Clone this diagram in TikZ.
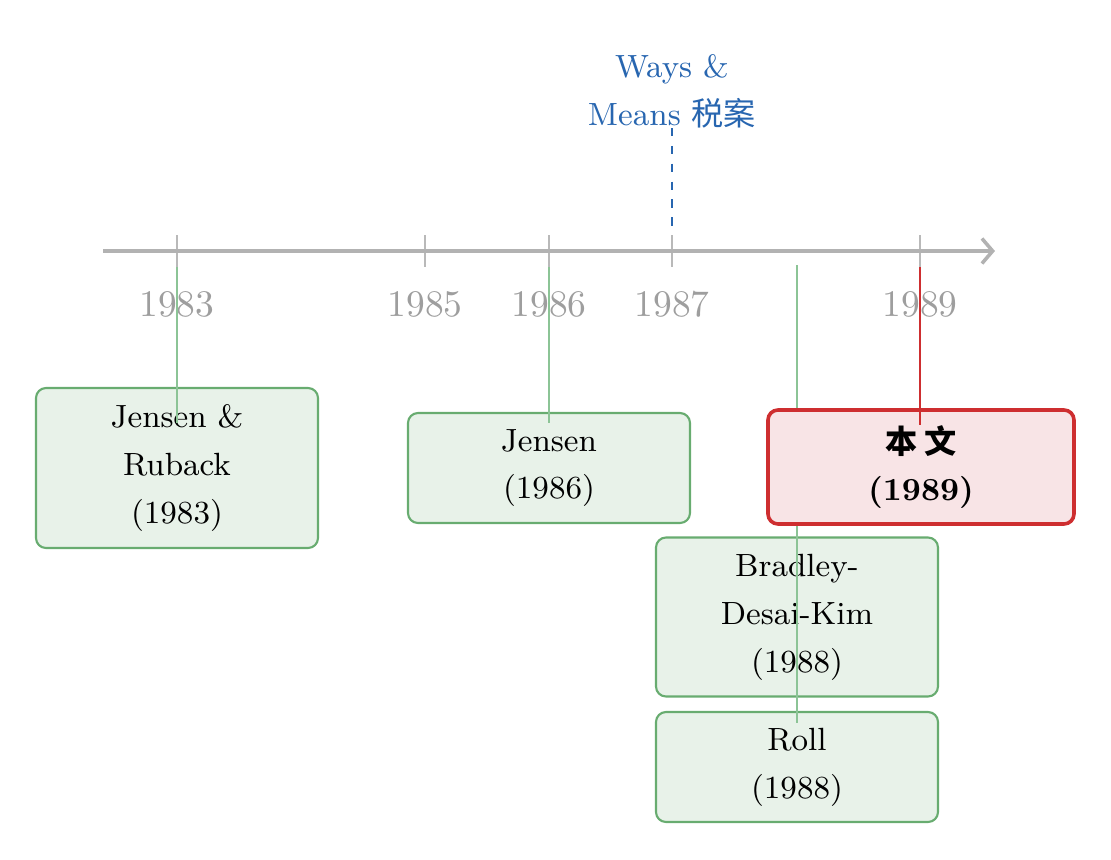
\documentclass[tikz,border=0pt]{standalone}
\usepackage{fontspec}
\newfontfamily\cjk{Noto Sans CJK SC}
\usetikzlibrary{arrows.meta}
\newdimen\pxu \pxu=0.28pt
\definecolor{axisgray}{RGB}{178,178,178}
\definecolor{tickgray}{RGB}{185,185,185}
\definecolor{yeargray}{RGB}{158,158,158}
\definecolor{evblue}{RGB}{40,102,176}
\definecolor{gborder}{RGB}{104,172,112}
\definecolor{gfill}{RGB}{232,242,233}
\definecolor{gline}{RGB}{140,196,150}
\definecolor{rborder}{RGB}{206,46,48}
\definecolor{rfill}{RGB}{248,228,230}
\tikzset{
  axisline/.style={draw=axisgray, line width=1pt, -{Straight Barb[length=3pt,width=7pt,line width=1pt]}},
  tickline/.style={draw=tickgray, line width=0.4pt},
  yearlabel/.style={text=yeargray, font=\fontsize{10.5}{12}\selectfont, inner sep=0pt},
  boxtext/.style={align=center, font=\fontsize{9}{13.4}\selectfont, inner sep=0pt},
  gbox/.style={boxtext, draw=gborder, fill=gfill, line width=0.6pt, rounded corners=2.8pt, minimum width=282\pxu},
  rbox/.style={boxtext, draw=rborder, fill=rfill, line width=1pt, rounded corners=2.8pt, minimum width=306\pxu, minimum height=114\pxu},
  gconn/.style={draw=gline, line width=0.4pt},
  rconn/.style={draw=rborder, line width=0.4pt},
  evtext/.style={boxtext, text=evblue},
  evline/.style={draw=evblue, line width=0.5pt, dash pattern=on 2.3pt off 2.7pt},
}
\begin{document}
\begin{tikzpicture}[x=0.28pt,y=-0.28pt]
\useasboundingbox (0,0) rectangle (1111,860);
% axis coordinates
\coordinate (axs) at (103,251);
\coordinate (axe) at (995,251);
\foreach \n/\x in {83/177,85/425,86/549,87/672,89/920}{
  \coordinate (tt\n) at (\x,235);
  \coordinate (tb\n) at (\x,267);
  \draw[tickline] (tt\n) -- (tb\n);
}
\draw[axisline] (axs) -- (axe);
% year labels
\node[yearlabel] (y83) at (177,304) {1983};
\node[yearlabel] (y85) at (425,304) {1985};
\node[yearlabel] (y86) at (549,304) {1986};
\node[yearlabel] (y87) at (672,304) {1987};
\node[yearlabel] (y89) at (920,304) {1989};
% event
\node[evtext] (ev) at (672,91) {Ways \&\\Means {\cjk 税案}};
\coordinate (evs) at (672,128);
\draw[evline] (evs) -- (tt87);
% green boxes
\node[gbox, minimum height=160\pxu] (jr) at (177,468) {Jensen \&\\Ruback\\(1983)};
\node[gbox, minimum height=110\pxu] (j86) at (549,468) {Jensen\\(1986)};
\node[gbox, minimum height=159\pxu] (bdk) at (797,617) {Bradley-\\Desai-Kim\\(1988)};
\node[gbox, minimum height=110\pxu] (roll) at (797,767) {Roll\\(1988)};
% green connectors
\coordinate (c83) at (177,423);
\coordinate (c86) at (549,423);
\coordinate (s88) at (797,265);
\coordinate (c88) at (797,723);
\draw[gconn] (tb83) -- (c83);
\draw[gconn] (tb86) -- (c86);
\draw[gconn] (s88) -- (c88);
% red box
\node[rbox] (me) at (921,467) {{\cjk\bfseries 本\ 文}\\\textbf{(1989)}};
\coordinate (c89) at (920,425);
\draw[rconn] (tb89) -- (c89);
\end{tikzpicture}
\end{document}
